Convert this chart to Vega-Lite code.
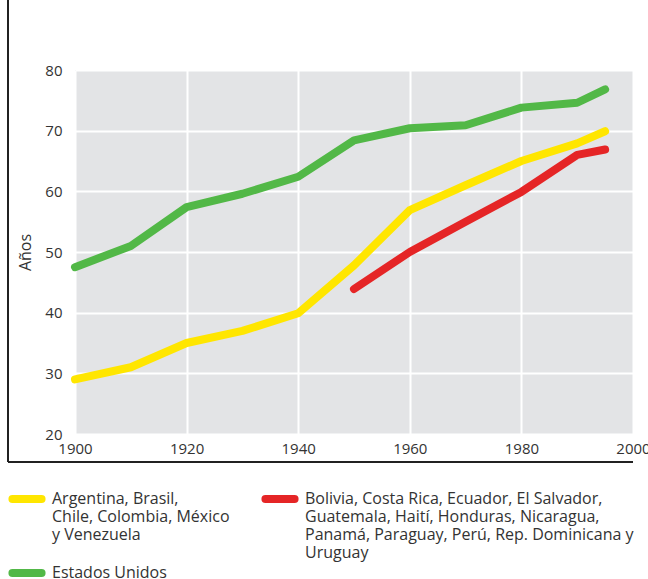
{
  "$schema": "https://vega.github.io/schema/vega-lite/v6.json",
  "autosize": {"type": "none"},
  "padding": {"left": 75, "top": 70, "right": 15, "bottom": 145},
  "width": 558,
  "height": 364,
  "background": "white",
  "config": {
    "font": "Open Sans",
    "view": {"fill": "#e3e4e6", "stroke": null},
    "axis": {
      "domain": false,
      "ticks": false,
      "grid": true,
      "gridColor": "white",
      "gridWidth": 2,
      "labelColor": "#333333",
      "labelFontSize": 15,
      "labelFont": "Open Sans",
      "titleFont": "Open Sans",
      "titleFontWeight": "normal",
      "titleColor": "#333333",
      "titleFontSize": 16
    }
  },
  "data": {
    "values": [
      {"anio": 1900, "valor": 47.5, "grupo": "EU"},
      {"anio": 1910, "valor": 51, "grupo": "EU"},
      {"anio": 1920, "valor": 57.4, "grupo": "EU"},
      {"anio": 1930, "valor": 59.6, "grupo": "EU"},
      {"anio": 1940, "valor": 62.4, "grupo": "EU"},
      {"anio": 1950, "valor": 68.4, "grupo": "EU"},
      {"anio": 1960, "valor": 70.4, "grupo": "EU"},
      {"anio": 1970, "valor": 70.9, "grupo": "EU"},
      {"anio": 1980, "valor": 73.8, "grupo": "EU"},
      {"anio": 1990, "valor": 74.6, "grupo": "EU"},
      {"anio": 1995, "valor": 76.8, "grupo": "EU"},
      {"anio": 1900, "valor": 29, "grupo": "AR"},
      {"anio": 1910, "valor": 31, "grupo": "AR"},
      {"anio": 1920, "valor": 35, "grupo": "AR"},
      {"anio": 1930, "valor": 37, "grupo": "AR"},
      {"anio": 1940, "valor": 39.9, "grupo": "AR"},
      {"anio": 1950, "valor": 47.8, "grupo": "AR"},
      {"anio": 1960, "valor": 56.9, "grupo": "AR"},
      {"anio": 1970, "valor": 61, "grupo": "AR"},
      {"anio": 1980, "valor": 65, "grupo": "AR"},
      {"anio": 1990, "valor": 67.9, "grupo": "AR"},
      {"anio": 1995, "valor": 69.9, "grupo": "AR"},
      {"anio": 1950, "valor": 43.9, "grupo": "BO"},
      {"anio": 1960, "valor": 50, "grupo": "BO"},
      {"anio": 1970, "valor": 55, "grupo": "BO"},
      {"anio": 1980, "valor": 59.9, "grupo": "BO"},
      {"anio": 1990, "valor": 66, "grupo": "BO"},
      {"anio": 1995, "valor": 66.9, "grupo": "BO"}
    ]
  },
  "layer": [
    {
      "mark": {"type": "rule", "color": "#222222", "strokeWidth": 1.5},
      "encoding": {
        "x": {"datum": 1888},
        "y": {"datum": 15.4},
        "y2": {"datum": 91.6}
      }
    },
    {
      "mark": {"type": "rule", "color": "#222222", "strokeWidth": 1.5},
      "encoding": {
        "y": {"datum": 15.4},
        "x": {"datum": 1888},
        "x2": {"datum": 2000}
      }
    },
    {
      "mark": {"type": "line", "strokeWidth": 8, "strokeCap": "round", "strokeJoin": "round"},
      "encoding": {
        "x": {
          "field": "anio",
          "type": "quantitative",
          "scale": {"domain": [1900, 2000], "nice": false, "zero": false},
          "axis": {"values": [1900, 1920, 1940, 1960, 1980, 2000], "format": "d", "title": null, "labelPadding": 7, "labelFlush": false}
        },
        "y": {
          "field": "valor",
          "type": "quantitative",
          "scale": {"domain": [20, 80], "nice": false, "zero": false},
          "axis": {"values": [20, 30, 40, 50, 60, 70, 80], "title": "Años", "labelPadding": 13, "titlePadding": 11, "labelFlush": false}
        },
        "color": {
          "field": "grupo",
          "type": "nominal",
          "scale": {"domain": ["AR", "BO", "EU"], "range": ["#ffe600", "#e52526", "#52b847"]},
          "legend": {
            "title": null,
            "orient": "none",
            "direction": "horizontal",
            "legendX": -67,
            "legendY": 420,
            "columns": 2,
            "columnPadding": 19,
            "rowPadding": -4,
            "symbolType": "stroke",
            "symbolStrokeWidth": 8,
            "symbolSize": 850,
            "labelFontSize": 16,
            "labelFont": "Open Sans",
            "labelColor": "#333333",
            "labelOffset": 6,
            "labelLimit": 400,
            "labelBaseline": "middle",
            "encode": {
              "symbols": {"update": {"y": {"value": 9}, "strokeCap": {"value": "round"}}},
              "labels": {"update": {"y": {"value": 9}}}
            },
            "labelExpr": "datum.value == 'AR' ? ['Argentina, Brasil,', 'Chile, Colombia, México', 'y Venezuela', ''] : datum.value == 'BO' ? ['Bolivia, Costa Rica, Ecuador, El Salvador,', 'Guatemala, Haití, Honduras, Nicaragua,', 'Panamá, Paraguay, Perú, Rep. Dominicana y', 'Uruguay'] : 'Estados Unidos'"
          }
        },
        "order": {"field": "anio", "type": "quantitative"}
      }
    }
  ]
}
